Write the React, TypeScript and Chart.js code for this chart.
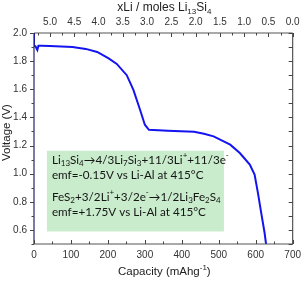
import React, { useEffect, useRef } from "react";
import { Chart, registerables } from "chart.js";

Chart.register(...registerables);

// ---- Data ----
const capacity = [0, 0, 4, 7, 9, 12, 20, 43, 104, 140, 171, 202, 224, 251, 269, 287, 300, 311, 362, 433, 460, 486, 531, 557, 584, 597, 606, 615, 624, 628];
const voltage = [2.0, 1.91, 1.905, 1.89, 1.88, 1.91, 1.91, 1.908, 1.9, 1.887, 1.865, 1.82, 1.78, 1.7, 1.596, 1.454, 1.348, 1.312, 1.305, 1.298, 1.284, 1.265, 1.206, 1.147, 1.064, 0.993, 0.863, 0.72, 0.58, 0.5];

const capTicks = [0, 100, 200, 300, 400, 500, 600, 700];
const capMinor = [50, 150, 250, 350, 450, 550, 650];
const xLiTicks = [5.0, 4.5, 4.0, 3.5, 3.0, 2.5, 2.0, 1.5, 1.0, 0.5, 0.0];
const xLiMinor = [5.25, 4.75, 4.25, 3.75, 3.25, 2.75, 2.25, 1.75, 1.25, 0.75, 0.25];
const vTicks = [0.6, 0.8, 1.0, 1.2, 1.4, 1.6, 1.8, 2.0];
const vMinor = [0.5, 0.7, 0.9, 1.1, 1.3, 1.5, 1.7, 1.9];

type Seg = [string, "n" | "sub" | "sup"];
const topTitle: Seg[] = [["xLi / moles Li", "n"], ["13", "sub"], ["Si", "n"], ["4", "sub"]];
const bottomTitle: Seg[] = [["Capacity (mAhg", "n"], ["-1", "sup"], [")", "n"]];
const yTitle = "Voltage (V)";
const noteLines: Seg[][] = [
  [["Li", "n"], ["13", "sub"], ["Si", "n"], ["4", "sub"], ["\u2192", "n"], ["4/3Li", "n"], ["7", "sub"], ["Si", "n"], ["3", "sub"], ["+11/3Li", "n"], ["+", "sup"], ["+11/3e", "n"], ["-", "sup"]],
  [["emf=-0.15V vs Li-Al at 415\u00B0C", "n"]],
  [["FeS", "n"], ["2", "sub"], ["+3/2Li", "n"], ["+", "sup"], ["+3/2e", "n"], ["-", "sup"], ["\u2192", "n"], ["1/2Li", "n"], ["3", "sub"], ["Fe", "n"], ["2", "sub"], ["S", "n"], ["4", "sub"]],
  [["emf=+1.75V vs Li-Al at 415\u00B0C", "n"]],
];
const noteLineOffsets = [9, 24, 46, 61];
// annotation box in data coordinates (capacity, voltage)
const noteBox = { x0: 35, x1: 514, y0: 0.589, y1: 1.163 };

const axisFam = "'Liberation Sans', Arial, sans-serif";

function richWidth(ctx: CanvasRenderingContext2D, segs: Seg[], size: number, family: string) {
  let w = 0;
  for (const [t, k] of segs) {
    ctx.font = `${k === "n" ? size : Math.round(size * 0.7)}px ${family}`;
    w += ctx.measureText(t).width;
  }
  return w;
}
function drawRich(ctx: CanvasRenderingContext2D, segs: Seg[], x: number, y: number, size: number, family: string) {
  ctx.textBaseline = "middle";
  ctx.textAlign = "left";
  let cx = x;
  for (const [t, k] of segs) {
    const s = k === "n" ? size : Math.round(size * 0.7);
    ctx.font = `${s}px ${family}`;
    const dy = k === "sub" ? size * 0.3 : k === "sup" ? -size * 0.35 : 0;
    ctx.fillText(t, cx, y + dy);
    cx += ctx.measureText(t).width;
  }
}

const decorPlugin = {
  id: "decor",
  beforeDatasetsDraw(chart: any) {
    const ctx = chart.ctx as CanvasRenderingContext2D;
    const xs = chart.scales.x, ys = chart.scales.y;
    const bx0 = xs.getPixelForValue(noteBox.x0), bx1 = xs.getPixelForValue(noteBox.x1);
    const by0 = ys.getPixelForValue(noteBox.y1), by1 = ys.getPixelForValue(noteBox.y0);
    ctx.save();
    ctx.fillStyle = "#c9eccc";
    ctx.fillRect(bx0, by0, bx1 - bx0, by1 - by0);
    ctx.fillStyle = "#151515";
    const fam = "Lato, 'Open Sans', sans-serif";
    noteLines.forEach((line, i) => {
      drawRich(ctx, line, bx0 + 5, by0 + noteLineOffsets[i], 11.7, fam);
    });
    ctx.restore();
  },
  afterDraw(chart: any) {
    const ctx = chart.ctx as CanvasRenderingContext2D;
    const { left, right, top, bottom } = chart.chartArea;
    const xs = chart.scales.x, x2 = chart.scales.x2, ys = chart.scales.y;
    ctx.save();
    // frame
    ctx.lineWidth = 1.2;
    ctx.strokeStyle = "#555";
    ctx.beginPath();
    ctx.moveTo(left, top); ctx.lineTo(right, top);
    ctx.moveTo(right, top); ctx.lineTo(right, bottom);
    ctx.moveTo(left, bottom); ctx.lineTo(right, bottom);
    ctx.stroke();
    ctx.strokeStyle = "#22226a";
    ctx.beginPath();
    ctx.moveTo(left, top); ctx.lineTo(left, bottom);
    ctx.stroke();
    // ticks
    ctx.strokeStyle = "#444";
    ctx.lineWidth = 1;
    ctx.beginPath();
    for (const v of capTicks) { const p = Math.round(xs.getPixelForValue(v)) + 0.5; ctx.moveTo(p, bottom); ctx.lineTo(p, bottom - 4); }
    for (const v of capMinor) { const p = Math.round(xs.getPixelForValue(v)) + 0.5; ctx.moveTo(p, bottom); ctx.lineTo(p, bottom - 2.5); }
    for (const v of xLiTicks) { const p = Math.round(x2.getPixelForValue(v)) + 0.5; ctx.moveTo(p, top); ctx.lineTo(p, top + 4); }
    for (const v of xLiMinor) { const p = Math.round(x2.getPixelForValue(v)) + 0.5; ctx.moveTo(p, top); ctx.lineTo(p, top + 2.5); }
    for (const v of vTicks) { const p = Math.round(ys.getPixelForValue(v)) + 0.5; ctx.moveTo(left, p); ctx.lineTo(left - 4, p); ctx.moveTo(right, p); ctx.lineTo(right - 4, p); }
    for (const v of vMinor) { const p = Math.round(ys.getPixelForValue(v)) + 0.5; ctx.moveTo(left, p); ctx.lineTo(left - 2.5, p); ctx.moveTo(right, p); ctx.lineTo(right - 4, p); }
    ctx.stroke();
    // titles
    ctx.fillStyle = "#222";
    const cx = (left + right) / 2;
    let w = richWidth(ctx, topTitle, 12, axisFam);
    drawRich(ctx, topTitle, cx - w / 2 + 1, 8, 12, axisFam);
    w = richWidth(ctx, bottomTitle, 11.5, axisFam);
    drawRich(ctx, bottomTitle, cx - w / 2 + 1, 272, 11.5, axisFam);
    ctx.translate(7, (top + bottom) / 2 - 6);
    ctx.rotate(-Math.PI / 2);
    ctx.font = `11.5px ${axisFam}`;
    ctx.textAlign = "center";
    ctx.textBaseline = "middle";
    ctx.fillText(yTitle, 0, 0);
    ctx.restore();
  },
};

export default function App() {
  const ref = useRef<HTMLCanvasElement>(null);
  useEffect(() => {
    if (!ref.current) return;
    const tickOpts = (cb: (v: number) => string, padding: number) => ({
      font: { family: axisFam, size: 10 },
      color: "#333",
      padding,
      autoSkip: false,
      maxRotation: 0,
      callback: (v: any) => cb(Number(v)),
    });
    const chart = new Chart(ref.current, {
      type: "line",
      data: {
        datasets: [
          {
            data: capacity.map((c, i) => ({ x: c, y: voltage[i] })),
            borderColor: "#1414f0",
            borderWidth: 2,
            pointRadius: 0,
            tension: 0,
            fill: false,
            xAxisID: "x",
            yAxisID: "y",
          },
        ],
      },
      options: {
        responsive: false,
        animation: false,
        events: [],
        layout: { padding: { left: 0, right: 10, top: 0, bottom: 0 } },
        plugins: { legend: { display: false }, tooltip: { enabled: false } },
        scales: {
          x: {
            type: "linear",
            position: "bottom",
            min: 0,
            max: 700,
            afterBuildTicks: (s: any) => { s.ticks = capTicks.map((v) => ({ value: v })); },
            afterFit: (s: any) => { s.height = 37; },
            ticks: tickOpts((v) => String(v), 5),
            grid: { display: false, drawTicks: false },
            border: { display: false },
          },
          x2: {
            type: "linear",
            position: "top",
            min: 0,
            max: 5.33,
            reverse: true,
            afterBuildTicks: (s: any) => { s.ticks = xLiTicks.map((v) => ({ value: v })); },
            afterFit: (s: any) => { s.height = 33; },
            ticks: tickOpts((v) => v.toFixed(1), 5),
            grid: { display: false, drawTicks: false },
            border: { display: false },
          },
          y: {
            type: "linear",
            position: "left",
            min: 0.5,
            max: 2.0,
            afterBuildTicks: (s: any) => { s.ticks = vTicks.map((v) => ({ value: v })); },
            afterFit: (s: any) => { s.width = 34; },
            ticks: tickOpts((v) => v.toFixed(1), 7),
            grid: { display: false, drawTicks: false },
            border: { display: false },
          },
        },
      } as any,
      plugins: [decorPlugin],
    });
    return () => chart.destroy();
  }, []);
  return (
    <div style={{ position: "fixed", left: 0, top: 0, width: 306, height: 281, background: "#fff" }}>
      <canvas ref={ref} width={306} height={281} style={{ width: 306, height: 281 }} />
    </div>
  );
}
